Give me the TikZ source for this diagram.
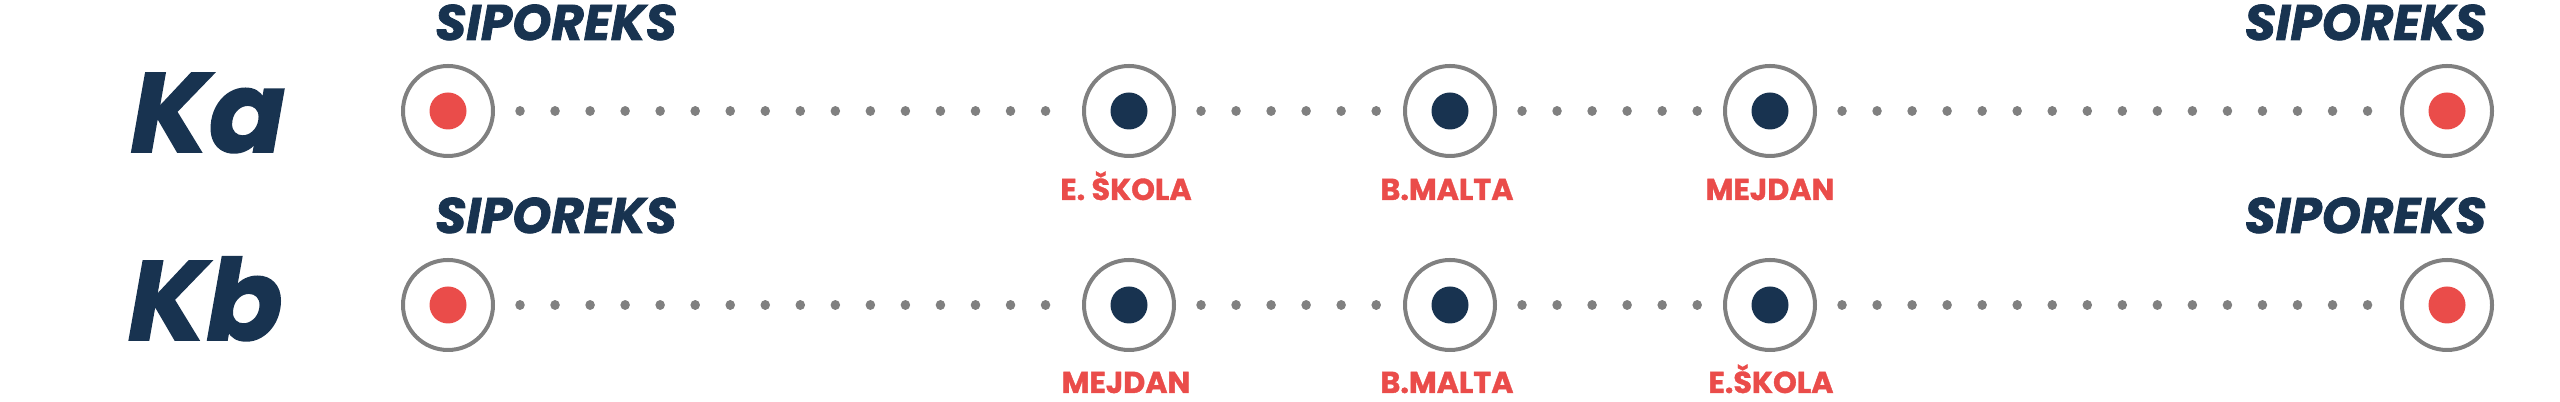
\documentclass[tikz,border=0pt]{standalone}
\usepackage{fontspec}
\setmainfont{Poppins}[BoldFeatures={FakeBold=1.2}, BoldItalicFeatures={FakeBold=1.5}]
\usepackage{tikz}
\usetikzlibrary{positioning, calc}
\definecolor{navyblue}{RGB}{24,51,80}
\definecolor{stopred}{RGB}{234,76,74}
\definecolor{ringgray}{RGB}{128,128,128}

\tikzset{
  station/.style={draw=ringgray, circle, line width=0.04cm, minimum size=0.9cm, inner sep=0pt,
    path picture={\fill[#1] (path picture bounding box.center) circle (0.185);}},
  dotline/.style={draw=ringgray, line width=0.095cm, line cap=round,
    dash pattern=on 0.01pt off 0.35cm, shorten <=0.25cm, shorten >=0.25cm},
  linename/.style={text=navyblue, font=\fontsize{32}{34}\selectfont\bfseries\itshape, anchor=base, inner sep=0pt},
  endname/.style={text=navyblue, font=\fontsize{14.2}{16}\selectfont\bfseries\itshape, anchor=base, inner sep=0pt},
  stopname/.style={text=stopred, font=\fontsize{8.6}{9}\selectfont\bfseries, anchor=base, inner sep=0pt}
}

\begin{document}
\begin{tikzpicture}
\useasboundingbox (0,0) rectangle (25.6,4.02);

% Line Ka
\node[linename] (ka) at (2.08,2.50) {Ka};
\node[station=stopred] (ka0) at (4.48,2.91) {};
\node[station=navyblue] (ka1) at (11.29,2.91) {};
\node[station=navyblue] (ka2) at (14.50,2.91) {};
\node[station=navyblue] (ka3) at (17.70,2.91) {};
\node[station=stopred] (ka4) at (24.47,2.91) {};

\node[endname] (kafrom) at (5.56,3.62) {SIPOREKS};
\node[endname] (kato) at (23.655,3.62) {SIPOREKS};

\node[stopname] (kaname1) at (11.26,2.02) {E. ŠKOLA};
\node[stopname] (kaname2) at (14.47,2.02) {B.MALTA};
\node[stopname] (kaname3) at (17.70,2.02) {MEJDAN};

\draw[dotline] (ka0) -- (ka1);
\draw[dotline] (ka1) -- (ka2);
\draw[dotline] (ka2) -- (ka3);
\draw[dotline] (ka3) -- (ka4);

% Line Kb
\node[linename] (kb) at (2.055,0.62) {Kb};
\node[station=stopred] (kb0) at (4.48,0.97) {};
\node[station=navyblue] (kb1) at (11.29,0.97) {};
\node[station=navyblue] (kb2) at (14.50,0.97) {};
\node[station=navyblue] (kb3) at (17.70,0.97) {};
\node[station=stopred] (kb4) at (24.47,0.97) {};

\node[endname] (kbfrom) at (5.56,1.69) {SIPOREKS};
\node[endname] (kbto) at (23.655,1.69) {SIPOREKS};

\node[stopname] (kbname1) at (11.26,0.09) {MEJDAN};
\node[stopname] (kbname2) at (14.47,0.09) {B.MALTA};
\node[stopname] (kbname3) at (17.71,0.09) {E.ŠKOLA};

\draw[dotline] (kb0) -- (kb1);
\draw[dotline] (kb1) -- (kb2);
\draw[dotline] (kb2) -- (kb3);
\draw[dotline] (kb3) -- (kb4);
\end{tikzpicture}
\end{document}
